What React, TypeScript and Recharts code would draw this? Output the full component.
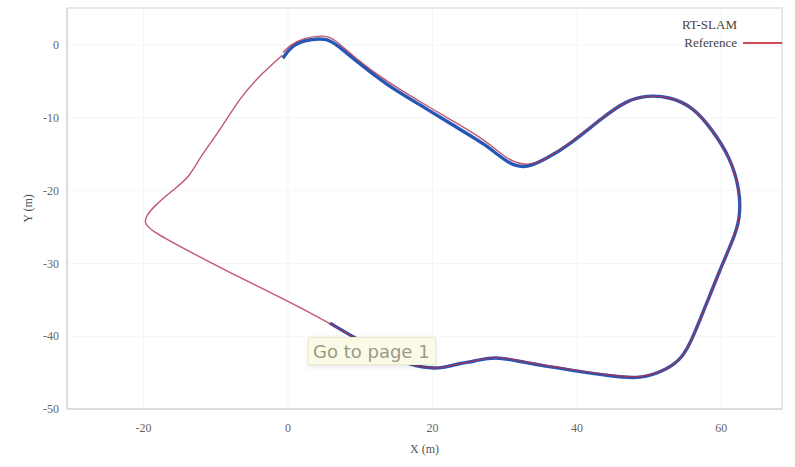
import React from "react";
import {
  LineChart,
  Line,
  XAxis,
  YAxis,
  CartesianGrid,
  ReferenceArea,
} from "recharts";

const refX = [
  -0.7, 0.3, 2.1, 5.1, 6.5, 9.3, 13.4, 18.0, 22.6, 27.3, 30.4, 32.8, 34.9, 39.0,
  43.6, 46.9, 49.7, 52.9, 56.1, 58.8, 61.2, 62.6, 62.6, 61.6, 59.8, 58.0, 56.1,
  54.7, 52.5, 48.7, 45.0, 39.4, 32.5, 28.7, 25.6, 23.8, 21.5, 18.7, 15.1, 10.4,
  5.8, -1.1, -8.0, -14.9, -19.1, -19.9, -19.6, -18.4, -15.9, -13.6, -12.2, -9.4,
  -6.6, -3.5, -0.8,
];
const refY = [
  -1.0, 0.0, 1.0, 1.4, 0.8, -1.8, -4.8, -7.6, -10.3, -13.0, -15.8, -16.5, -16.2,
  -13.5, -9.9, -7.6, -6.9, -7.1, -8.5, -11.7, -15.4, -19.9, -24.0, -26.8, -30.9,
  -35.4, -40.1, -42.9, -44.6, -45.8, -45.4, -44.6, -43.5, -42.6, -43.5, -43.7,
  -44.4, -44.4, -43.3, -40.9, -38.2, -34.6, -31.3, -27.7, -25.4, -24.4, -23.4,
  -22.0, -19.9, -18.1, -15.4, -11.7, -7.1, -3.8, -1.4,
];

// RT-SLAM estimate, drifts a little on the first stretch
const slamX = [
  -0.7, 0.3, 2.1, 5.4, 6.8, 9.6, 13.7, 18.3, 22.8, 27.5, 30.7, 33.1, 35.8, 39.1,
  43.6, 46.9, 49.7, 52.9, 56.1, 58.8, 61.2, 62.6, 62.6, 61.6, 59.8, 58.0, 56.1,
  54.7, 52.5, 48.7, 45.0, 39.4, 32.5, 28.7, 25.6, 23.8, 21.5, 18.7, 15.1, 10.4,
  5.8,
];
const slamY = [
  -1.8, -0.3, 0.7, 1.0, 0.0, -2.3, -5.5, -8.2, -11.0, -13.7, -16.5, -16.9, -15.6,
  -13.6, -9.9, -7.6, -6.9, -7.1, -8.5, -11.7, -15.4, -19.9, -24.0, -26.8, -30.9,
  -35.4, -40.1, -42.9, -44.6, -45.9, -45.5, -44.7, -43.6, -42.7, -43.5, -43.7,
  -44.4, -44.4, -43.3, -40.9, -38.2,
];

const xTicks = [-20, 0, 20, 40, 60];
const yTicks = [0, -10, -20, -30, -40, -50];

const X_MIN = -30.6;
const X_MAX = 68.4;
const Y_MIN = -50;
const Y_MAX = 5.1;

const refData = refX.map((x, i) => ({ x, y: refY[i] }));
const slamData = slamX.map((x, i) => ({ x, y: slamY[i] }));

const FONT = "'Liberation Serif', 'DejaVu Serif', serif";
const tickStyle = { fontSize: 12, fill: "#666", fontFamily: FONT };
const labelStyle = { fontSize: 12, fill: "#555", fontFamily: FONT };
const legendText = {
  position: "absolute" as const,
  right: 795 - 737,
  fontFamily: FONT,
  fontSize: 13,
  color: "#444",
  lineHeight: "16px",
};

export default function App() {
  return (
    <div style={{ position: "absolute", left: 0, top: 0, width: 795, height: 467, background: "#fff" }}>
      <LineChart
        width={795}
        height={467}
        margin={{ top: 8, right: 13, bottom: 18, left: 22 }}
      >
        <CartesianGrid stroke="#f5f5f5" />
        <XAxis
          type="number"
          dataKey="x"
          domain={[X_MIN, X_MAX]}
          ticks={xTicks}
          allowDataOverflow
          height={40}
          tick={tickStyle}
          tickLine={false}
          tickMargin={8}
          axisLine={{ stroke: "#dddddd", strokeWidth: 2 }}
          label={{ value: "X (m)", position: "insideBottom", offset: -4, style: labelStyle }}
        />
        <YAxis
          type="number"
          dataKey="y"
          domain={[Y_MIN, Y_MAX]}
          ticks={yTicks}
          allowDataOverflow
          width={45}
          tick={tickStyle}
          tickLine={false}
          axisLine={{ stroke: "#dddddd", strokeWidth: 2 }}
          label={{ value: "Y (m)", angle: -90, position: "insideLeft", offset: 6, style: { ...labelStyle, textAnchor: "middle" } }}
        />
        <ReferenceArea
          x1={X_MIN}
          x2={X_MAX}
          y1={Y_MIN}
          y2={Y_MAX}
          fill="none"
          stroke="#e2e2e2"
          strokeWidth={1.5}
        />
        <Line
          data={slamData}
          dataKey="y"
          name="RT-SLAM"
          type="basis"
          stroke="#2656b6"
          strokeWidth={3.4}
          dot={false}
          isAnimationActive={false}
        />
        <Line
          data={refData}
          dataKey="y"
          name="Reference"
          type="basis"
          stroke="#b23048"
          strokeWidth={1.4}
          strokeOpacity={0.8}
          dot={false}
          isAnimationActive={false}
        />
      </LineChart>
      {/* legend, matplotlib style: the first entry has no visible handle */}
      <div style={{ ...legendText, top: 17 }}>RT-SLAM</div>
      <div style={{ ...legendText, top: 35 }}>Reference</div>
      <div style={{ position: "absolute", left: 743, top: 42, width: 39, height: 2, background: "#d24a5a" }} />
      <div
        style={{
          position: "absolute",
          left: 308,
          top: 337,
          width: 128,
          height: 28,
          boxSizing: "border-box",
          padding: "3px 0 0 4px",
          background: "#fbfae6",
          border: "1px solid #ecebd0",
          boxShadow: "0 2px 5px rgba(0,0,0,0.10)",
          fontFamily: "'DejaVu Sans', sans-serif",
          fontSize: 18,
          lineHeight: "21px",
          color: "#9a9a8a",
        }}
      >
        Go to page 1
      </div>
    </div>
  );
}
